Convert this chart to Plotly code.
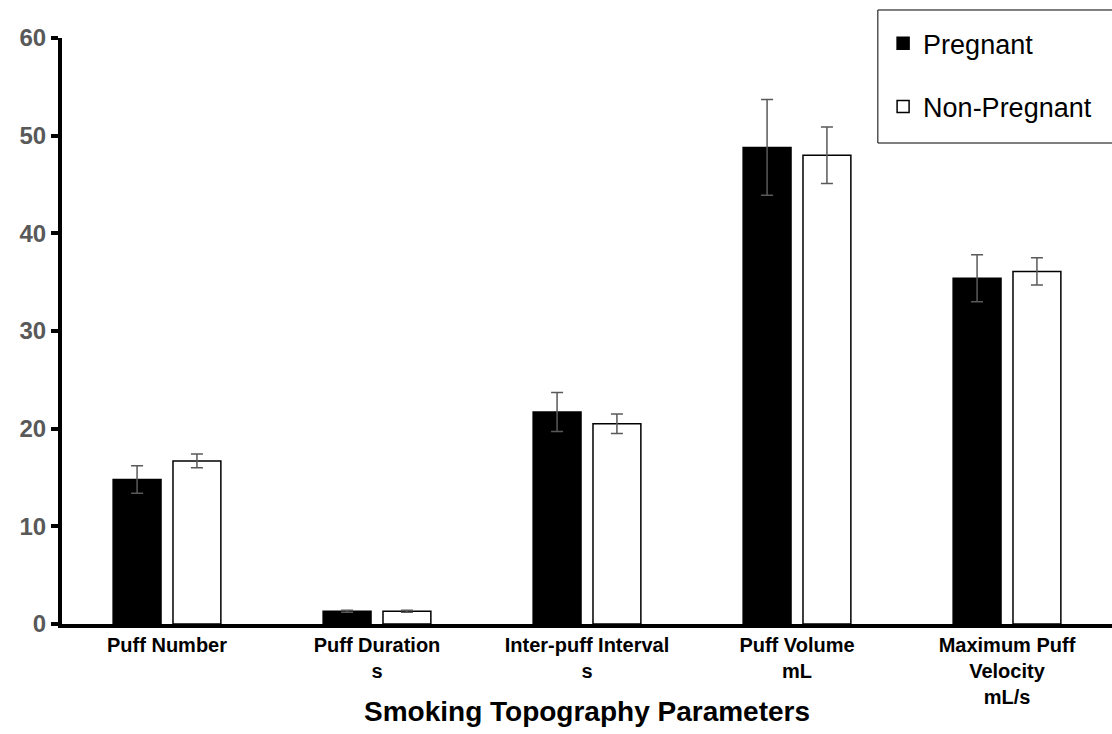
import plotly.graph_objects as go

categories = ["Puff Number", "Puff Duration<br>s", "Inter-puff Interval<br>s",
              "Puff Volume<br>mL", "Maximum Puff<br>Velocity<br>mL/s"]
pregnant = [14.8, 1.3, 21.7, 48.8, 35.4]
pregnant_err = [1.4, 0.1, 2.0, 4.9, 2.4]
nonpregnant = [16.7, 1.3, 20.5, 48.0, 36.1]
nonpregnant_err = [0.7, 0.1, 1.0, 2.9, 1.4]
y_ticks = [0, 10, 20, 30, 40, 50, 60]

FONT = "Arial, Liberation Sans, sans-serif"

fig = go.Figure()
fig.add_trace(go.Bar(
    name="Pregnant", x=categories, y=pregnant, legendgroup="a",
    marker=dict(color="black", line=dict(color="black", width=1.5)),
    error_y=dict(type="data", array=pregnant_err, color="#595959", thickness=1.5, width=6),
))
fig.add_trace(go.Bar(
    name="Non-Pregnant", x=categories, y=nonpregnant, legendgroup="b",
    marker=dict(color="white", line=dict(color="black", width=1.5)),
    error_y=dict(type="data", array=nonpregnant_err, color="#595959", thickness=1.5, width=6),
))

# legend frame
fig.add_shape(type="rect", xref="paper", yref="paper",
              x0=0.777, x1=1.02, y0=0.8208, y1=1.0478,
              line=dict(color="black", width=1), fillcolor="white", layer="above")

fig.add_annotation(text="<b>Smoking Topography Parameters</b>",
                   xref="paper", yref="paper", x=0.5, y=-0.150,
                   xanchor="center", yanchor="middle", showarrow=False,
                   font=dict(size=28, color="black", family=FONT))

fig.update_layout(
    width=1112, height=734,
    margin=dict(l=62, r=0, t=38, b=110),
    paper_bgcolor="white", plot_bgcolor="white",
    barmode="group", bargap=0.43, bargroupgap=0.2,
    font=dict(family=FONT, color="black"),
    legend=dict(
        x=0.782, y=1.032, xanchor="left", yanchor="top",
        borderwidth=0, bgcolor="rgba(0,0,0,0)",
        font=dict(size=27, color="black"),
        traceorder="grouped", tracegroupgap=25,
        itemwidth=30,
    ),
    xaxis=dict(
        showline=True, linecolor="black", linewidth=4,
        ticks="", showgrid=False,
        tickfont=dict(size=20, color="black", family=FONT, weight="bold"),
    ),
    yaxis=dict(
        range=[0, 60], tickvals=y_ticks,
        showline=True, linecolor="black", linewidth=4,
        ticks="outside", tickwidth=4, ticklen=7, tickcolor="black",
        showgrid=False, zeroline=False,
        tickfont=dict(size=24, color="#595959", family=FONT, weight="bold"),
    ),
)

fig.write_html("out.html")
